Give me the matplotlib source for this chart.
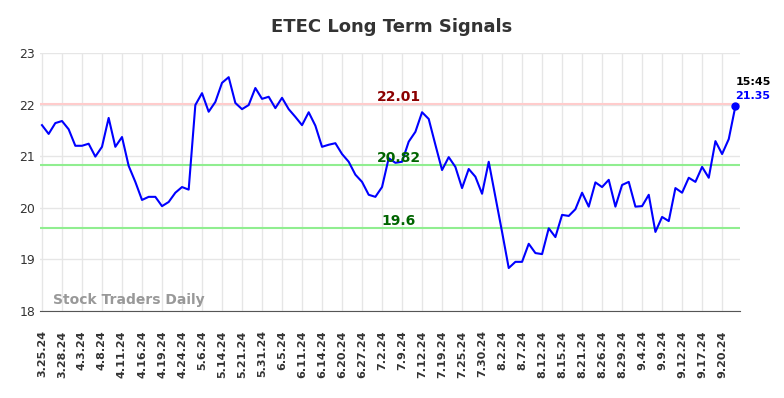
import matplotlib
matplotlib.use("Agg")
import matplotlib.pyplot as plt

ticker = "ETEC"
prices = [
    21.60, 21.43, 21.64, 21.68, 21.52, 21.20, 21.20, 21.24, 20.99, 21.18,
    21.74, 21.18, 21.37, 20.81, 20.50, 20.15, 20.21, 20.21, 20.03, 20.11,
    20.29, 20.40, 20.35, 21.99, 22.22, 21.86, 22.05, 22.42, 22.53, 22.03,
    21.91, 21.99, 22.32, 22.11, 22.15, 21.93, 22.13, 21.91, 21.76, 21.60,
    21.85, 21.59, 21.18, 21.22, 21.25, 21.04, 20.89, 20.64, 20.50, 20.25,
    20.21, 20.40, 20.96, 20.87, 20.89, 21.28, 21.47, 21.85, 21.72, 21.22,
    20.73, 20.98, 20.79, 20.38, 20.75, 20.60, 20.27, 20.89, 20.21, 19.53,
    18.83, 18.95, 18.95, 19.30, 19.12, 19.10, 19.60, 19.43, 19.86, 19.84,
    19.97, 20.29, 20.02, 20.49, 20.40, 20.54, 20.02, 20.44, 20.50, 20.02,
    20.03, 20.25, 19.53, 19.82, 19.74, 20.38, 20.29, 20.58, 20.50, 20.79,
    20.58, 21.29, 21.04, 21.33, 21.97,
]
tick_labels = [
    "3.25.24", "3.28.24", "4.3.24", "4.8.24", "4.11.24", "4.16.24", "4.19.24",
    "4.24.24", "5.6.24", "5.14.24", "5.21.24", "5.31.24", "6.5.24", "6.11.24",
    "6.14.24", "6.20.24", "6.27.24", "7.2.24", "7.9.24", "7.12.24", "7.19.24",
    "7.25.24", "7.30.24", "8.2.24", "8.7.24", "8.12.24", "8.15.24", "8.21.24",
    "8.26.24", "8.29.24", "9.4.24", "9.9.24", "9.12.24", "9.17.24", "9.20.24",
]
resistance = 22.01
mid_level = 20.82
support = 19.6
last_time = "15:45"
last_label = "21.35"

fig = plt.figure(figsize=(7.84, 3.98), dpi=100)
ax = fig.add_axes([0.051, 0.219, 0.893, 0.648])

x = list(range(len(prices)))
ax.axhline(resistance, color="#ffcccc", linewidth=1.5, zorder=1)
ax.axhline(mid_level, color="#90ee90", linewidth=1.5, zorder=1)
ax.axhline(support, color="#90ee90", linewidth=1.5, zorder=1)
ax.plot(x, prices, color="blue", linewidth=1.5, zorder=3)
ax.plot(x[-1], prices[-1], "o", color="blue", markersize=5, zorder=4)

ax.set_xlim(-0.3, 104.7)
ax.set_ylim(18, 23)
ax.set_yticks([18, 19, 20, 21, 22, 23])
ax.set_xticks(x[::3])
ax.set_xticklabels(tick_labels, rotation=90, fontsize=8, fontweight="bold",
                   color="#333333")
ax.tick_params(axis="y", labelsize=9, length=0, colors="#333333")
ax.tick_params(axis="x", length=0, pad=14)
ax.grid(True, color="#e6e6e6", linewidth=1)
ax.set_axisbelow(True)
for s in ["top", "right", "left"]:
    ax.spines[s].set_visible(False)
ax.spines["bottom"].set_color("#555555")

mid_x = 53.5
ax.text(mid_x, resistance + 0.0, f"{resistance:.2f}", color="#8b0000",
        fontsize=10, fontweight="bold", ha="center", va="bottom")
ax.text(mid_x, mid_level + 0.0, f"{mid_level:.2f}", color="#006400",
        fontsize=10, fontweight="bold", ha="center", va="bottom")
ax.text(mid_x, support + 0.0, f"{support}", color="#006400",
        fontsize=10, fontweight="bold", ha="center", va="bottom")

ax.text(x[-1], prices[-1] + 0.1, last_label, color="blue", fontsize=8,
        fontweight="bold", ha="left", va="bottom")
ax.text(x[-1], prices[-1] + 0.37, last_time, color="black", fontsize=8,
        fontweight="bold", ha="left", va="bottom")

ax.text(1.7, 18.07, "Stock Traders Daily", color="#999999", fontsize=10,
        fontweight="bold", ha="left", va="bottom")

fig.suptitle(f"{ticker} Long Term Signals", x=0.5, y=0.955, fontsize=13,
             fontweight="bold", color="#333333")

fig.savefig("out.png", dpi=100)
